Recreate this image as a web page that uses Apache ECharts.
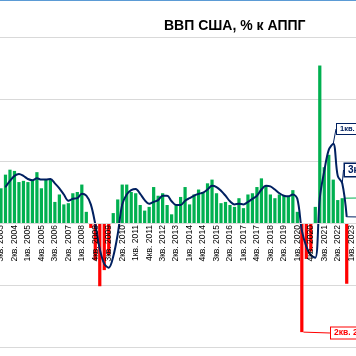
<!DOCTYPE html>
<html><head><meta charset="utf-8">
<script src="https://cdn.jsdelivr.net/npm/echarts/dist/echarts.min.js"></script>
<style>html,body{margin:0;padding:0;background:#fff}#c{width:356px;height:356px}</style>
</head><body><div id="c"></div>
<script>
// Quarters (category axis)
const categories = [
 '3кв. 2003','4кв. 2003',
 '1кв. 2004','2кв. 2004','3кв. 2004','4кв. 2004',
 '1кв. 2005','2кв. 2005','3кв. 2005','4кв. 2005',
 '1кв. 2006','2кв. 2006','3кв. 2006','4кв. 2006',
 '1кв. 2007','2кв. 2007','3кв. 2007','4кв. 2007',
 '1кв. 2008','2кв. 2008','3кв. 2008','4кв. 2008',
 '1кв. 2009','2кв. 2009','3кв. 2009','4кв. 2009',
 '1кв. 2010','2кв. 2010','3кв. 2010','4кв. 2010',
 '1кв. 2011','2кв. 2011','3кв. 2011','4кв. 2011',
 '1кв. 2012','2кв. 2012','3кв. 2012','4кв. 2012',
 '1кв. 2013','2кв. 2013','3кв. 2013','4кв. 2013',
 '1кв. 2014','2кв. 2014','3кв. 2014','4кв. 2014',
 '1кв. 2015','2кв. 2015','3кв. 2015','4кв. 2015',
 '1кв. 2016','2кв. 2016','3кв. 2016','4кв. 2016',
 '1кв. 2017','2кв. 2017','3кв. 2017','4кв. 2017',
 '1кв. 2018','2кв. 2018','3кв. 2018','4кв. 2018',
 '1кв. 2019','2кв. 2019','3кв. 2019','4кв. 2019',
 '1кв. 2020','2кв. 2020','3кв. 2020','4кв. 2020',
 '1кв. 2021','2кв. 2021','3кв. 2021','4кв. 2021',
 '1кв. 2022','2кв. 2022','3кв. 2022','4кв. 2022',
 '1кв. 2023','2кв. 2023'
];
// GDP, % y/y (bars)
const gdpYoY = [
 2.8,3.9,
 4.3,4.2,3.3,3.4,
 3.3,3.4,4.1,2.8,
 3.5,3.5,1.7,2.3,
 1.5,1.6,2.4,2.5,
 3.1,0.9,-0.4,-3.0,
 -5.1,-3.8,-2.6,0.8,
 1.9,3.1,3.1,2.5,
 2.4,1.45,1.0,1.3,
 2.9,2.2,2.4,1.45,
 0.7,1.5,2.1,2.9,
 1.5,2.3,2.7,2.5,
 3.2,3.5,2.4,1.6,
 1.7,1.45,1.3,2.0,
 1.2,2.3,2.4,2.9,
 3.6,3.0,2.3,2.0,
 2.3,2.2,2.15,2.65,
 0.9,-8.8,-2.9,-2.3,
 1.3,12.7,4.5,5.5,
 3.5,1.85,2.0,-4.9,
 null,null
];
// smoothed trend line
const trend = [
 null,2.9,
 3.4,3.8,3.95,3.8,
 3.55,3.45,3.6,3.5,
 3.5,3.55,3.2,2.8,
 2.3,1.8,1.95,2.0,
 2.35,2.2,1.5,-0.1,
 -2.1,-3.3,-3.6,-2.7,
 -0.9,1.5,2.3,2.65,
 2.75,2.35,1.85,1.55,
 1.7,1.85,2.2,2.2,
 1.75,1.45,1.45,1.8,
 2.0,2.2,2.35,2.45,
 2.7,3.0,2.9,2.6,
 2.2,1.75,1.5,1.55,
 1.5,1.7,1.95,2.2,
 2.7,3.0,2.95,2.7,
 2.4,2.2,2.15,2.3,
 1.95,-0.6,-1.9,-2.6,
 -2.8,2.0,4.2,5.9,
 6.4,3.8,3.2,0.5,
 null,null
];
const yTicks = {min:-10, max:15, step:5};
const titleText = 'ВВП США, % к АППГ';

// callouts (annotation styling)
const barNotes = {
  67: {text:'2кв. 2020', color:'#FF0000', fs:8.5, x:331, y:333, bw:1},
  76: {text:'3кв. 2022', color:'#00B050', fs:8.5, x:360, y:198, bw:1}
};
const lineNotes = {
  74: {text:'1кв. 2022', color:'#002060', fs:7.5, x:337, y:129, bw:1},
  76: {text:'3кв. 2022', color:'#002060', fs:10, x:345, y:170, bw:1.5},
  77: {text:'4кв. 2022', color:'#002060', fs:8, x:362, y:217, bw:1}
};
function noteLabel(n){
  return {show:true, formatter:n.text, color:n.color, fontSize:n.fs, fontWeight:'bold',
    fontFamily:'Liberation Sans, Arial, sans-serif',
    backgroundColor:'#fff', borderColor:n.color, borderWidth:n.bw, padding:[1,3]};
}
const barData = gdpYoY.map((v,i)=>{
  const o = {value:v};
  if (barNotes[i]) { o.label = noteLabel(barNotes[i]); o.labelLine = {show:true, lineStyle:{color:barNotes[i].color, width:1}}; }
  return o;
});
const lineData = trend.map((v,i)=>{
  const o = {value:v};
  if (lineNotes[i]) { o.label = noteLabel(lineNotes[i]); o.labelLine = {show:true, lineStyle:{color:lineNotes[i].color, width:1}}; }
  return o;
});

const gridTop = 37, gridBottom = 9, chartH = 356;
const plotH = chartH - gridTop - gridBottom;
// shift the category axis from the grid bottom up to the zero line
const zeroOffset = -plotH * (0 - yTicks.min) / (yTicks.max - yTicks.min);

const chart = echarts.init(document.getElementById('c'), null, {renderer:'canvas'});
chart.setOption({
  animation:false,
  backgroundColor:'#fff',
  title:{text:titleText, left:159, top:14,
    textStyle:{fontSize:14, fontWeight:'bold', color:'#000', fontFamily:'Liberation Sans, Arial, sans-serif'}},
  graphic:[{type:'line', shape:{x1:0,y1:0.5,x2:356,y2:0.5}, style:{stroke:'#5B9BD5', lineWidth:1}, z:100}],
  grid:{left:-1.25, right:-1.95, top:gridTop, bottom:gridBottom, containLabel:false, outerBoundsMode:'none'},
  xAxis:{type:'category', data:categories, z:10, position:'bottom', offset:zeroOffset,
    axisLine:{show:true, onZero:false, lineStyle:{color:'#d9d9d9'}},
    axisTick:{show:false},
    axisLabel:{rotate:90, fontSize:8.5, color:'#000', margin:2,
      fontFamily:'Liberation Sans, Arial, sans-serif',
      interval:function(i){return i%3===0;}},
    splitLine:{show:false}},
  yAxis:{type:'value', min:yTicks.min, max:yTicks.max, interval:yTicks.step,
    axisLabel:{show:false}, axisLine:{show:false}, axisTick:{show:false},
    splitLine:{lineStyle:{color:'#d9d9d9', width:1}}},
  series:[
    {type:'bar', data:barData, barWidth:'72%',
      itemStyle:{color:function(p){return p.value<0?'#FF0000':'#00B050';}},
      label:{show:false},
      labelLayout:function(p){const n=barNotes[p.dataIndex]; if(!n) return {}; return {x:n.x, y:n.y, align:'left', verticalAlign:'middle'};},
      z:2},
    {type:'line', data:lineData, smooth:0.35, showSymbol:true, showAllSymbol:true,
      symbol:'circle', symbolSize:1,
      itemStyle:{color:'#002060'},
      lineStyle:{color:'#002060', width:2},
      label:{show:false},
      labelLayout:function(p){const n=lineNotes[p.dataIndex]; if(!n) return {}; return {x:n.x, y:n.y, align:'left', verticalAlign:'middle'};},
      z:3}
  ]
});
</script></body></html>
